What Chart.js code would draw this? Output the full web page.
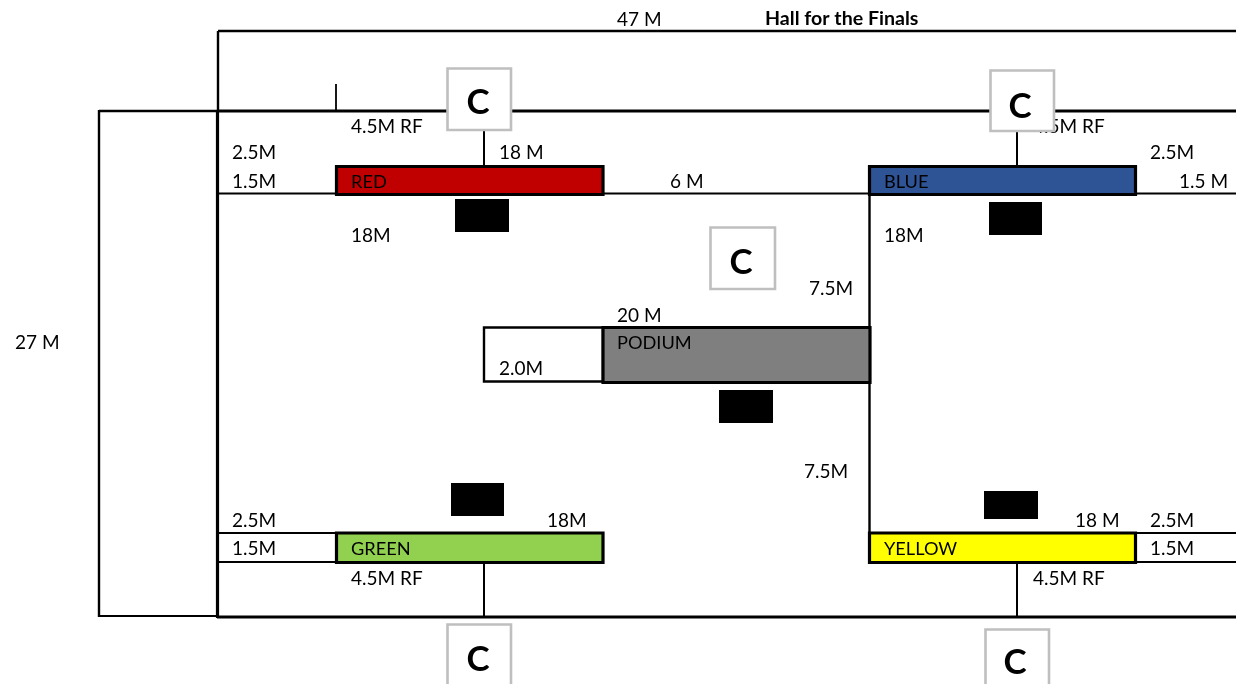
<!DOCTYPE html>
<html>
<head>
<meta charset="utf-8">
<title>Hall for the Finals</title>
<script src="https://cdn.jsdelivr.net/npm/chart.js@4"></script>
<style>
  html, body { margin: 0; padding: 0; background: #fff; }
  #wrap { width: 1236px; height: 684px; overflow: hidden; }
  canvas { display: block; }
</style>
</head>
<body>
<div id="wrap"><canvas id="plan"></canvas></div>
<script>
// Plan units are the picture's own grid: x 0-1236, y 0-684 downwards
const wallX0 = [218, 218, 99, 218, 217.5, 99, 99, 217, 336, 218, 603, 1136, 869.5, 218, 218, 1136, 1136];
const wallY0 = [31, 31, 111, 111, 110, 110, 616, 617, 84, 193.5, 193.5, 193.5, 193.5, 533, 562, 533, 562];
const wallX1 = [1236, 218, 218, 1236, 217.5, 99, 218, 1236, 336, 336, 870, 1236, 869.5, 336, 336, 1236, 1236];
const wallY1 = [31, 111, 111, 111, 618, 617, 616, 617, 111, 193.5, 193.5, 193.5, 533, 533, 562, 533, 562];
const wallW  = [2.4, 2.4, 2.4, 3, 3.2, 2.4, 2, 3.2, 1.8, 2, 2, 2, 2.4, 2, 2, 2, 2];

const stemX  = [484, 1017, 484, 1017];
const stemY0 = [130, 131, 562, 562];
const stemY1 = [166, 166, 617, 617];

const rooms     = ['RED', 'BLUE', 'GREEN', 'YELLOW', 'PODIUM'];
const roomX0    = [336.5, 869.5, 336.5, 869.5, 603];
const roomX1    = [603, 1135.5, 603, 1135.5, 870];
const roomY0    = [166.5, 166.5, 533, 533, 327.5];
const roomY1    = [194.5, 194.5, 562.5, 562.5, 382.5];
const roomColor = ['#c00000', '#2f5496', '#92d050', '#ffff00', '#7f7f7f'];
const roomTextX = [351, 884, 351, 884, 617];
const roomTextY = [182, 182, 549, 549, 343];

const blockX0 = [455, 989, 719, 451, 984];
const blockX1 = [509, 1042, 773, 504, 1038];
const blockY0 = [199, 202, 390, 483, 491];
const blockY1 = [232, 235, 423, 516, 519];

const cX0 = [447.5, 990.5, 710.5, 447.5, 985.5];
const cX1 = [511, 1054, 775, 511, 1049];
const cY0 = [68.5, 70.5, 227.5, 624.5, 629.5];
const cY1 = [130, 131, 289, 690, 695];
const cTextX = [478, 1020, 741, 478, 1015];
const cTextY = [103, 107, 263, 660, 663];

const dimText = ['47 M', '4.5M RF', '2.5M', '18 M', '1.5M', '6 M', '4.5M RF', '2.5M', '1.5 M', '18M', '18M', '7.5M', '20 M', '2.0M', '27 M', '7.5M', '2.5M', '18M', '18 M', '2.5M', '1.5M', '1.5M', '4.5M RF', '4.5M RF'];
const dimX    = [617, 351, 232, 499, 232, 670, 1033, 1150, 1179, 351, 884, 809, 617, 499, 15, 804, 232, 547, 1075, 1150, 232, 1150, 351, 1033];
const dimY    = [20, 127, 153, 153, 182, 182, 127, 153, 182, 236, 236, 289, 316, 369, 343, 472, 521, 521, 521, 521, 549, 549, 579, 579];

const titleText = 'Hall for the Finals';
const titleX = 765, titleY = 19;

const _FONT = 'Lato, "Open Sans", sans-serif';

function _segment(x0, y0, x1, y1, width) {
  return {
    data: [{ x: x0, y: y0 }, { x: x1, y: y1 }],
    borderColor: '#000',
    borderWidth: width,
    borderCapStyle: 'butt',
  };
}

function _box(x0, y0, x1, y1, fillColor, strokeColor, width) {
  return {
    data: [
      { x: x0, y: y0 }, { x: x1, y: y0 }, { x: x1, y: y1 }, { x: x0, y: y1 }, { x: x0, y: y0 },
    ],
    borderColor: strokeColor,
    borderWidth: width,
    borderCapStyle: 'square',
    borderJoinStyle: 'miter',
    backgroundColor: fillColor,
    fill: fillColor === 'transparent' ? false : 'shape',
  };
}

const datasets = [];
wallX0.forEach((x, i) => datasets.push(_segment(x, wallY0[i], wallX1[i], wallY1[i], wallW[i])));
stemX.forEach((x, i) => datasets.push(_segment(x, stemY0[i], x, stemY1[i], 2)));
// white annex to the left of the podium
datasets.push(_box(484, 327.5, 603, 381.5, 'transparent', '#000', 2.4));
rooms.forEach((r, i) => datasets.push(_box(roomX0[i], roomY0[i], roomX1[i], roomY1[i], roomColor[i], '#000', 3.2)));
blockX0.forEach((x, i) => datasets.push(_box(x, blockY0[i], blockX1[i], blockY1[i], '#000', '#000', 0)));
cX0.forEach((x, i) => datasets.push(_box(x, cY0[i], cX1[i], cY1[i], '#fff', '#bfbfbf', 2.6)));

function _text(chart, str, x, y, font) {
  const { ctx, scales } = chart;
  ctx.font = font;
  ctx.fillStyle = '#000';
  ctx.textBaseline = 'middle';
  ctx.fillText(str, scales.x.getPixelForValue(x), scales.y.getPixelForValue(y));
}

// Dimensions go under the marks (the blue 4.5M RF runs behind its C box),
// room names and the C letters go on top
const _labelPlugin = {
  id: 'planLabels',
  beforeDatasetsDraw(chart) {
    const { ctx } = chart;
    ctx.save();
    ctx.textAlign = 'left';
    dimText.forEach((t, i) => _text(chart, t, dimX[i], dimY[i], `19px ${_FONT}`));
    _text(chart, titleText, titleX, titleY, `bold 19.6px ${_FONT}`);
    ctx.restore();
  },
  afterDatasetsDraw(chart) {
    const { ctx } = chart;
    ctx.save();
    ctx.textAlign = 'left';
    rooms.forEach((r, i) => _text(chart, r, roomTextX[i], roomTextY[i], `18.2px ${_FONT}`));
    ctx.textAlign = 'center';
    cTextX.forEach((x, i) => _text(chart, 'C', x, cTextY[i], `bold 35px ${_FONT}`));
    ctx.restore();
  },
};

// Chart.js paints dataset 0 last, so reverse to keep the boxes over the walls
new Chart(document.getElementById('plan'), {
  type: 'scatter',
  data: { datasets: datasets.reverse().map(d => ({ showLine: true, pointRadius: 0, tension: 0, clip: false, ...d })) },
  options: {
    animation: false,
    responsive: true,
    maintainAspectRatio: false,
    layout: { padding: 0 },
    events: [],
    scales: {
      x: { type: 'linear', min: 0, max: 1236, display: false },
      y: { type: 'linear', min: 0, max: 684, reverse: true, display: false },
    },
    plugins: { legend: { display: false }, tooltip: { enabled: false } },
  },
  plugins: [_labelPlugin],
});
</script>
</body>
</html>
